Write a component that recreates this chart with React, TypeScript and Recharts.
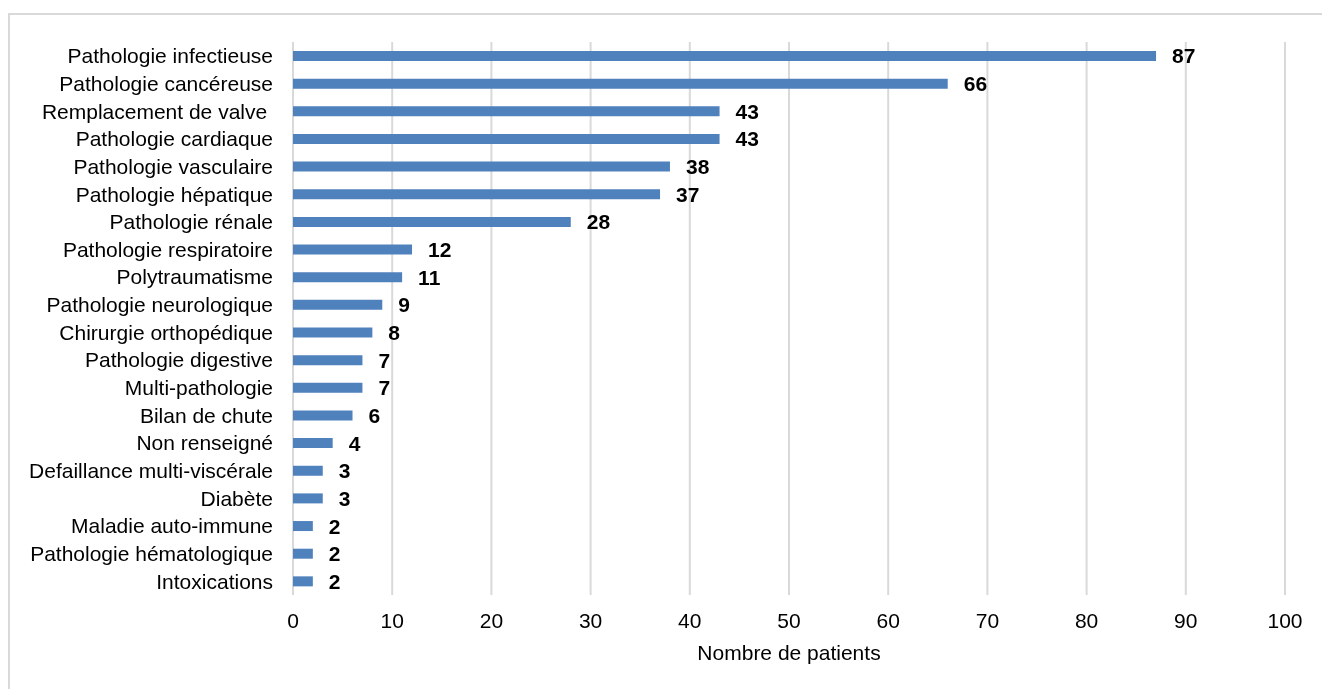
import React from "react";
import { BarChart, Bar, XAxis, YAxis, CartesianGrid, LabelList } from "recharts";

const categories = [
  "Pathologie infectieuse",
  "Pathologie cancéreuse",
  "Remplacement de valve\u00a0",
  "Pathologie cardiaque",
  "Pathologie vasculaire",
  "Pathologie hépatique",
  "Pathologie rénale",
  "Pathologie respiratoire",
  "Polytraumatisme",
  "Pathologie neurologique",
  "Chirurgie orthopédique",
  "Pathologie digestive",
  "Multi-pathologie",
  "Bilan de chute",
  "Non renseigné",
  "Defaillance multi-viscérale",
  "Diabète",
  "Maladie auto-immune",
  "Pathologie hématologique",
  "Intoxications",
];

const patients = [87, 66, 43, 43, 38, 37, 28, 12, 11, 9, 8, 7, 7, 6, 4, 3, 3, 2, 2, 2];

const xTicks = [0, 10, 20, 30, 40, 50, 60, 70, 80, 90, 100];

const font = "'Liberation Sans', Arial, sans-serif";

const App = () => {
  const data = categories.map((name, i) => ({ name, value: patients[i] }));

  return (
    <div style={{ position: "relative", width: 1306, height: 673, fontFamily: font }}>
      <div
        style={{
          position: "fixed",
          left: 8,
          top: 13,
          width: 1340,
          height: 700,
          border: "2px solid #d9d9d9",
          boxSizing: "border-box",
          pointerEvents: "none",
        }}
      />
      <BarChart
        width={1306}
        height={673}
        data={data}
        layout="vertical"
        margin={{ top: 34, right: 29, left: 0, bottom: 36 }}
        barCategoryGap={0}
      >
        <CartesianGrid horizontal={false} stroke="#d9d9d9" strokeWidth={2} />
        <XAxis
          type="number"
          domain={[0, 100]}
          ticks={xTicks}
          axisLine={false}
          tickLine={false}
          tickMargin={12}
          height={50}
          tick={{ fill: "#000", fontSize: 21, fontFamily: font }}
          label={{
            value: "Nombre de patients",
            position: "bottom",
            offset: 0,
            fill: "#000",
            fontSize: 21,
            fontFamily: font,
          }}
        />
        <YAxis
          type="category"
          dataKey="name"
          width={285}
          interval={0}
          axisLine={false}
          tickLine={false}
          tickMargin={14}
          tick={{ fill: "#000", fontSize: 21, fontFamily: font }}
        />
        <Bar dataKey="value" fill="#4f81bd" barSize={10} isAnimationActive={false}>
          <LabelList
            dataKey="value"
            position="right"
            offset={16}
            fill="#000"
            fontSize={21}
            fontWeight="bold"
            fontFamily={font}
          />
        </Bar>
      </BarChart>
    </div>
  );
};

export default App;
